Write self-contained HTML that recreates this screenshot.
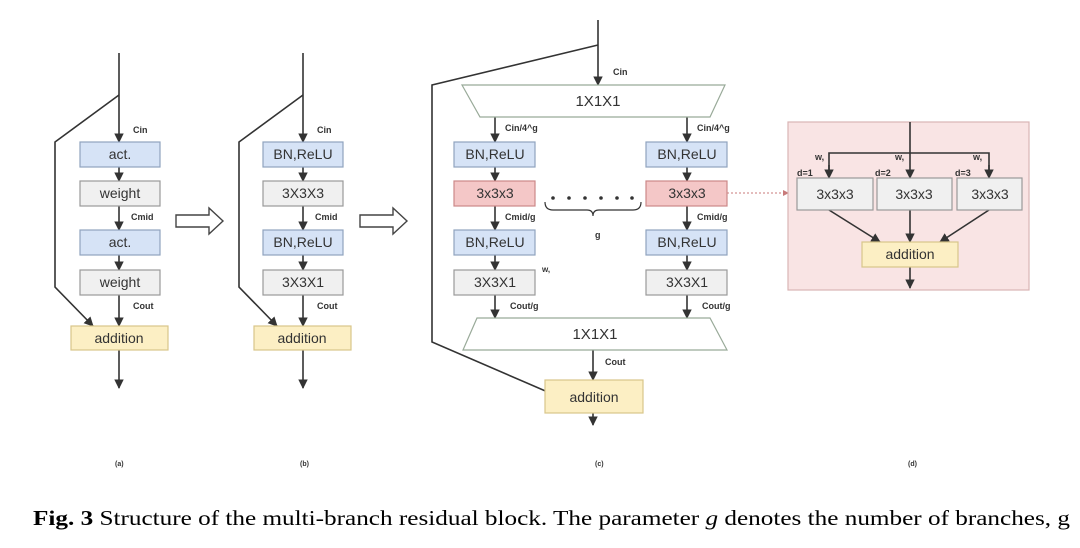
<!DOCTYPE html>
<html><head><meta charset="utf-8"><style>
body{margin:0;background:#fff;width:1080px;height:548px;overflow:hidden}
svg{display:block}
text{font-family:"Liberation Sans",sans-serif;fill:#333}
.s{font-size:9px;font-weight:bold;fill:#222}
.b{font-size:14px;fill:#444}
</style></head><body>
<svg width="1080" height="548" viewBox="0 0 1080 548">
<defs><marker id="a" viewBox="0 0 10 10" refX="9" refY="5" markerWidth="6" markerHeight="6" orient="auto"><path d="M0,0L10,5L0,10z" fill="#333"/></marker></defs>
<g stroke="#333" stroke-width="1.6" fill="none">
<line x1="119" y1="53" x2="119" y2="142" marker-end="url(#a)"/>
<polyline points="119,95 55,142 55,287 93,326" marker-end="url(#a)"/>
<line x1="119" y1="167" x2="119" y2="181" marker-end="url(#a)"/>
<line x1="119" y1="206" x2="119" y2="230" marker-end="url(#a)"/>
<line x1="119" y1="255" x2="119" y2="270" marker-end="url(#a)"/>
<line x1="119" y1="295" x2="119" y2="326" marker-end="url(#a)"/>
<line x1="119" y1="350" x2="119" y2="388" marker-end="url(#a)"/>
<line x1="303" y1="53" x2="303" y2="142" marker-end="url(#a)"/>
<polyline points="303,95 239,142 239,287 277,326" marker-end="url(#a)"/>
<line x1="303" y1="167" x2="303" y2="181" marker-end="url(#a)"/>
<line x1="303" y1="206" x2="303" y2="230" marker-end="url(#a)"/>
<line x1="303" y1="255" x2="303" y2="270" marker-end="url(#a)"/>
<line x1="303" y1="295" x2="303" y2="326" marker-end="url(#a)"/>
<line x1="303" y1="350" x2="303" y2="388" marker-end="url(#a)"/>
<line x1="598" y1="20" x2="598" y2="85" marker-end="url(#a)"/>
<polyline points="598,45 432,85 432,342 557,396" marker-end="url(#a)"/>
<line x1="495" y1="117" x2="495" y2="142" marker-end="url(#a)"/>
<line x1="687" y1="117" x2="687" y2="142" marker-end="url(#a)"/>
<line x1="495" y1="167" x2="495" y2="181" marker-end="url(#a)"/>
<line x1="687" y1="167" x2="687" y2="181" marker-end="url(#a)"/>
<line x1="495" y1="206" x2="495" y2="230" marker-end="url(#a)"/>
<line x1="687" y1="206" x2="687" y2="230" marker-end="url(#a)"/>
<line x1="495" y1="255" x2="495" y2="270" marker-end="url(#a)"/>
<line x1="687" y1="255" x2="687" y2="270" marker-end="url(#a)"/>
<line x1="495" y1="295" x2="495" y2="318" marker-end="url(#a)"/>
<line x1="687" y1="295" x2="687" y2="318" marker-end="url(#a)"/>
<line x1="593" y1="350" x2="593" y2="380" marker-end="url(#a)"/>
<line x1="593" y1="413" x2="593" y2="425" marker-end="url(#a)"/>
<path d="M545,202 q0,8 8,8 h34 q6,0 6,6 q0,-6 6,-6 h34 q8,0 8,-8" stroke-width="1.2"/>
</g>
<g fill="#333"><circle cx="553" cy="198" r="1.8"/><circle cx="569" cy="198" r="1.8"/><circle cx="585" cy="198" r="1.8"/><circle cx="601" cy="198" r="1.8"/><circle cx="617" cy="198" r="1.8"/><circle cx="632" cy="198" r="1.8"/></g>
<line x1="727" y1="193" x2="786" y2="193" stroke="#c87a7a" stroke-width="1" stroke-dasharray="2,2"/>
<path d="M783,190 L789,193 L783,196z" fill="#c87a7a"/>
<path d="M176,215 H209 V208 L223,221 L209,234 V227 H176z" fill="#fff" stroke="#444" stroke-width="1.4"/>
<path d="M360,215 H393 V208 L407,221 L393,234 V227 H360z" fill="#fff" stroke="#444" stroke-width="1.4"/>
<g stroke-width="1.2">
<rect x="80" y="142" width="80" height="25" fill="#d6e3f6" stroke="#8fa3bf"/>
<rect x="80" y="181" width="80" height="25" fill="#f0f0f0" stroke="#999"/>
<rect x="80" y="230" width="80" height="25" fill="#d6e3f6" stroke="#8fa3bf"/>
<rect x="80" y="270" width="80" height="25" fill="#f0f0f0" stroke="#999"/>
<rect x="71" y="326" width="97" height="24" fill="#fcefc4" stroke="#d8c68a"/>
<rect x="263" y="142" width="80" height="25" fill="#d6e3f6" stroke="#8fa3bf"/>
<rect x="263" y="181" width="80" height="25" fill="#f0f0f0" stroke="#999"/>
<rect x="263" y="230" width="80" height="25" fill="#d6e3f6" stroke="#8fa3bf"/>
<rect x="263" y="270" width="80" height="25" fill="#f0f0f0" stroke="#999"/>
<rect x="254" y="326" width="97" height="24" fill="#fcefc4" stroke="#d8c68a"/>
<polygon points="462,85 725,85 710,117 480,117" fill="#fff" stroke="#9a9"/>
<polygon points="477,318 710,318 727,350 463,350" fill="#fff" stroke="#9a9"/>
<rect x="454" y="142" width="81" height="25" fill="#d6e3f6" stroke="#8fa3bf"/>
<rect x="454" y="181" width="81" height="25" fill="#f4c7c7" stroke="#c88"/>
<rect x="454" y="230" width="81" height="25" fill="#d6e3f6" stroke="#8fa3bf"/>
<rect x="454" y="270" width="81" height="25" fill="#f0f0f0" stroke="#999"/>
<rect x="646" y="142" width="81" height="25" fill="#d6e3f6" stroke="#8fa3bf"/>
<rect x="646" y="181" width="81" height="25" fill="#f4c7c7" stroke="#c88"/>
<rect x="646" y="230" width="81" height="25" fill="#d6e3f6" stroke="#8fa3bf"/>
<rect x="646" y="270" width="81" height="25" fill="#f0f0f0" stroke="#999"/>
<rect x="545" y="380" width="98" height="33" fill="#fcefc4" stroke="#d8c68a"/>
<rect x="788" y="122" width="241" height="168" fill="#f9e4e4" stroke="#d9b5b5"/>
</g>
<g stroke="#333" stroke-width="1.6" fill="none">
<line x1="910" y1="122" x2="910" y2="178" marker-end="url(#a)"/>
<polyline points="829,178 829,153 989,153 989,178" />
<line x1="829" y1="165" x2="829" y2="178" marker-end="url(#a)"/>
<line x1="989" y1="165" x2="989" y2="178" marker-end="url(#a)"/>
<line x1="829" y1="210" x2="880" y2="242" marker-end="url(#a)"/>
<line x1="910" y1="210" x2="910" y2="242" marker-end="url(#a)"/>
<line x1="989" y1="210" x2="940" y2="242" marker-end="url(#a)"/>
<line x1="910" y1="267" x2="910" y2="288" marker-end="url(#a)"/>
</g>
<g stroke-width="1.2">
<rect x="797" y="178" width="76" height="32" fill="#f0f0f0" stroke="#999"/>
<rect x="877" y="178" width="75" height="32" fill="#f0f0f0" stroke="#999"/>
<rect x="957" y="178" width="65" height="32" fill="#f0f0f0" stroke="#999"/>
<rect x="862" y="242" width="96" height="25" fill="#fcefc4" stroke="#d8c68a"/>
</g>
<g text-anchor="middle" class="b">
<text x="120" y="159">act.</text><text x="120" y="198">weight</text><text x="120" y="247">act.</text><text x="120" y="287">weight</text><text x="119" y="343">addition</text>
<text x="303" y="159">BN,ReLU</text><text x="303" y="198">3X3X3</text><text x="303" y="247">BN,ReLU</text><text x="303" y="287">3X3X1</text><text x="302" y="343">addition</text>
<text x="598" y="106" font-size="15">1X1X1</text><text x="595" y="339" font-size="15">1X1X1</text>
<text x="495" y="159">BN,ReLU</text><text x="495" y="198">3x3x3</text><text x="495" y="247">BN,ReLU</text><text x="495" y="287">3X3X1</text>
<text x="687" y="159">BN,ReLU</text><text x="687" y="198">3x3x3</text><text x="687" y="247">BN,ReLU</text><text x="687" y="287">3X3X1</text>
<text x="594" y="402">addition</text>
<text x="835" y="199">3x3x3</text><text x="914" y="199">3x3x3</text><text x="990" y="199">3x3x3</text>
<text x="910" y="259">addition</text>
</g>
<g class="s">
<text x="133" y="133">Cin</text><text x="131" y="220">Cmid</text><text x="133" y="309">Cout</text>
<text x="317" y="133">Cin</text><text x="315" y="220">Cmid</text><text x="317" y="309">Cout</text>
<text x="613" y="75">Cin</text>
<text x="505" y="131">Cin/4^g</text><text x="697" y="131">Cin/4^g</text>
<text x="505" y="220">Cmid/g</text><text x="697" y="220">Cmid/g</text>
<text x="510" y="309">Cout/g</text><text x="702" y="309">Cout/g</text>
<text x="605" y="365">Cout</text>
<text x="542" y="272" font-size="8">w,</text>
<text x="595" y="238">g</text>
<text x="815" y="160">w,</text><text x="895" y="160">w,</text><text x="973" y="160">w,</text>
<text x="797" y="176">d=1</text><text x="875" y="176">d=2</text><text x="955" y="176">d=3</text>
<text x="115" y="466" font-size="7">(a)</text><text x="300" y="466" font-size="7">(b)</text><text x="595" y="466" font-size="7">(c)</text><text x="908" y="466" font-size="7">(d)</text>
</g>
<text x="33" y="525" textLength="1037" lengthAdjust="spacingAndGlyphs" style="font-family:'Liberation Serif',serif;font-size:21px;fill:#000"><tspan font-weight="bold">Fig. 3</tspan> Structure of the multi-branch residual block. The parameter <tspan font-style="italic">g</tspan> denotes the number of branches, g</text>
</svg>
</body></html>
